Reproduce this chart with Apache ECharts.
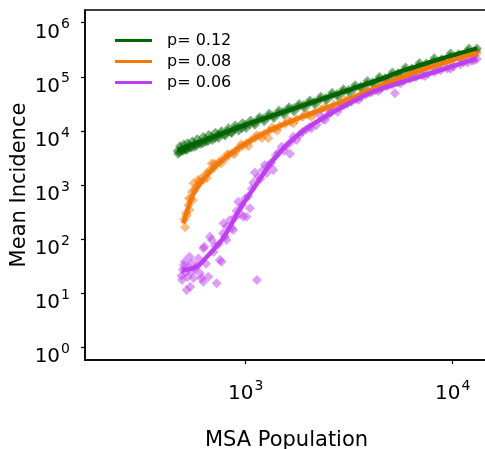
<!DOCTYPE html>
<html>
<head>
<meta charset="utf-8">
<script src="https://cdn.jsdelivr.net/npm/echarts@6/dist/echarts.min.js"></script>
<style>
html, body { margin: 0; padding: 0; background: #fff; }
#main { width: 485px; height: 449px; }
</style>
</head>
<body>
<div id="main"></div>
<script>
// tick positions (powers of ten)
var xTicks = [1000, 10000];
var yTicks = [1, 10, 100, 1000, 10000, 100000, 1000000];

var seriesNames = ['p= 0.12', 'p= 0.08', 'p= 0.06'];
var colors = ['#006400', '#f27a0a', '#bd40ee'];

// fitted curves, [MSA population, mean incidence]
var fit12 = [[470, 4400], [560, 5700], [710, 7900], [890, 11000], [1120, 15000], [1410, 20200],
    [1780, 27200], [2240, 36700], [2820, 49500], [3550, 67000], [4470, 90000], [5620, 126000],
    [7080, 166000], [8910, 219000], [11200, 282000], [13100, 331000]];
var fit08 = [[500, 195], [525, 355], [562, 710], [631, 1320], [708, 2140], [794, 3160], [891, 4370],
    [1000, 5890], [1260, 9550], [1585, 14100], [2000, 20000], [2510, 27500], [3160, 38900],
    [3980, 56200], [5010, 81300], [6310, 115000], [7940, 155000], [10000, 204000], [13060, 275000]];
var fit06 = [[491, 26.8], [580, 30.9], [648, 46.7], [711, 68.4], [780, 105], [849, 182], [938, 361],
    [1130, 1043], [1359, 2900], [1637, 6240], [1972, 11170], [2362, 17300], [2855, 26200],
    [4130, 53100], [6950, 100500], [13060, 220000]];

// simulated MSAs, [MSA population, mean incidence]
var pts12 = [[470, 4300], [480, 4050], [490, 4600], [500, 4350], [510, 4800], [520, 4500], [535, 5300],
    [550, 5000], [565, 5700], [580, 5500], [600, 6200], [620, 5900], [640, 6900], [660, 6600],
    [685, 7700], [710, 7400], [735, 8400], [760, 8900], [790, 8700], [820, 9800], [850, 9500],
    [885, 10900], [920, 11500], [960, 11300], [1000, 12800], [1050, 13400], [1100, 14200],
    [1160, 16100], [1220, 16900], [1290, 18500], [1360, 19100], [1440, 21300], [1520, 22400],
    [1610, 24900], [1700, 26100], [1800, 28100], [1910, 30200], [2030, 32800], [2150, 34500],
    [2290, 38200], [2440, 40600], [2600, 45100], [2770, 48200], [2950, 52700], [3150, 56900],
    [3360, 61400], [3600, 66100], [3850, 73800], [4120, 79300], [4400, 88500], [4720, 95100],
    [5080, 105000], [5460, 116000], [5880, 131000], [6350, 143000], [6870, 158000], [7450, 176000],
    [8100, 194000], [8850, 212000], [9700, 236000], [10700, 262000], [11900, 296000], [13100, 335000],
    [472, 3800], [482, 5200], [492, 4300], [503, 5600], [513, 4500], [524, 5900], [538, 4900],
    [553, 6400], [568, 5100], [584, 7000], [604, 5700], [624, 7700], [644, 6300], [664, 8400],
    [690, 6800], [714, 9200], [740, 7400], [765, 9900], [795, 8200], [826, 11200], [856, 9100],
    [890, 12600], [926, 10200], [966, 13800], [1006, 11300], [1056, 15600], [1107, 13000],
    [1167, 17900], [1228, 15000], [1298, 20800], [1368, 17400], [1449, 23900], [1530, 20000],
    [1620, 27300], [1711, 23000], [1812, 31400], [1922, 26400], [2043, 36300], [2164, 30700],
    [2305, 42600], [2456, 36800], [2617, 50800], [2788, 43200], [2969, 59000], [3171, 50900],
    [3382, 69800], [3624, 60500], [3875, 83500], [4147, 72000], [4429, 99000], [4751, 86500],
    [5113, 120000], [5496, 107000], [5918, 148000], [6392, 129000], [6915, 179000], [7499, 159000],
    [8153, 221000], [8908, 195000], [9764, 270000], [10770, 238000], [11980, 335000], [13000, 300000]];
var pts08 = [[505, 230], [510, 165], [515, 300], [520, 270], [528, 420], [535, 350], [545, 560],
    [555, 520], [560, 1075], [565, 780], [575, 900], [585, 1000], [598, 1150], [610, 1300],
    [625, 1240], [640, 1560], [655, 1650], [672, 1900], [686, 2500], [700, 2050], [720, 2400],
    [745, 2650], [770, 3000], [800, 3100], [830, 3650], [860, 3900], [895, 4300], [930, 4850],
    [970, 5300], [1010, 5900], [1060, 6700], [1110, 7400], [1170, 8200], [1230, 8900], [1286, 7300],
    [1300, 10000], [1380, 11000], [1460, 12300], [1550, 13400], [1650, 14800], [1760, 16500],
    [1880, 18000], [2010, 19600], [2150, 21800], [2310, 24600], [2480, 26800], [2670, 30600],
    [2880, 33500], [3100, 37400], [3350, 42100], [3620, 47800], [3920, 53900], [4250, 61800],
    [4620, 70300], [5030, 80500], [5480, 91800], [5980, 104000], [6550, 121000], [7200, 138000],
    [7950, 154000], [8800, 174000], [9800, 198000], [11000, 226000], [12300, 252000], [13100, 272000],
    [532, 560], [550, 740], [590, 1250], [650, 1350], [705, 2500], [760, 2500], [815, 3700],
    [880, 3700], [950, 5600], [1030, 5200], [1130, 8300], [1200, 7400], [1340, 11500], [1420, 10200],
    [1600, 15500], [1700, 13900], [1950, 20500], [2080, 18000], [2400, 27000], [2580, 25000],
    [3000, 37800], [3230, 35300], [3760, 53500], [4080, 53000], [4800, 79000], [5250, 80000],
    [6260, 118000], [6870, 120000], [8350, 168000], [9300, 176000], [11600, 241000], [12700, 250000]];
var pts06 = [[490, 21], [493, 17.5], [497, 27], [503, 33], [508, 38], [512, 24], [519, 11.5], [524, 20],
    [530, 30], [536, 47], [540, 13.2], [546, 25], [552, 36], [560, 19], [570, 28], [580, 31], [592, 44],
    [602, 23], [613, 18.9], [624, 16.3], [624, 67.6], [632, 72], [644, 35], [660, 20.2], [672, 111],
    [686, 96], [700, 58], [712, 75], [724, 15.2], [740, 80], [751, 41], [765, 38], [778, 128], [782, 196],
    [795, 110], [809, 96], [812, 170], [840, 225], [855, 160], [871, 147], [890, 250], [905, 330],
    [921, 491], [940, 300], [960, 420], [973, 259], [995, 560], [1011, 259], [1030, 620], [1049, 371],
    [1070, 850], [1090, 1100], [1109, 1700], [1134, 17.5], [1150, 1400], [1180, 1300], [1210, 1900],
    [1239, 2340], [1263, 1645], [1290, 2300], [1330, 2600], [1360, 1893], [1400, 3500], [1440, 4000],
    [1492, 5100], [1530, 4300], [1570, 5200], [1637, 3800], [1660, 6400], [1700, 7810], [1760, 6790],
    [1820, 8400], [1880, 9600], [1950, 10500], [2030, 11700], [2083, 11170], [2200, 12850],
    [2284, 19600], [2350, 16400], [2415, 15850], [2500, 19700], [2580, 21800], [2650, 24300],
    [2780, 22500], [2870, 27800], [2980, 29600], [3100, 31900], [3250, 34800], [3420, 38600],
    [3600, 42800], [3800, 46500], [4000, 50800], [4250, 55600], [4500, 60400], [4800, 66700],
    [5100, 71900], [5260, 49500], [5450, 78400], [5800, 84200], [6200, 90800], [6650, 98100],
    [7100, 106000], [7600, 114000], [8150, 123000], [8750, 132000], [9400, 143000], [10100, 155000],
    [10900, 168000], [11800, 184000], [12700, 203000], [13100, 214000],
    [3180, 36000], [3520, 37500], [3900, 52000], [4380, 54500], [4950, 72000], [5600, 76000],
    [6420, 99000], [7350, 103000], [8450, 135000], [9750, 141000], [11300, 185000], [12400, 197000]];

var fits = [fit12, fit08, fit06];
var points = [pts12, pts08, pts06];

var font = 'DejaVu Sans';

// 10^n labels with a superscript exponent
function powLabel(v) {
    return '{b|10}{s|' + Math.round(Math.log10(v)) + '}';
}
var powRich = {
    b: { fontFamily: font, fontSize: 20, lineHeight: 20, color: '#000', padding: [10, 0, 0, 0], verticalAlign: 'top' },
    s: { fontFamily: font, fontSize: 14, lineHeight: 14, color: '#000', padding: [5, 0, 0, 1], verticalAlign: 'top' }
};

var myChart = echarts.init(document.getElementById('main'));

var series = [];
for (var i = 0; i < 3; i++) {
    series.push({
        name: 'pts' + i,
        type: 'scatter',
        symbol: 'diamond',
        symbolSize: 10,
        itemStyle: { color: colors[i], opacity: 0.5 },
        data: points[i]
    });
    series.push({
        name: seriesNames[i],
        type: 'line',
        smooth: 0.35,
        showSymbol: false,
        lineStyle: { color: colors[i], width: 4.5 },
        itemStyle: { color: colors[i] },
        data: fits[i]
    });
}

option = {
    animation: false,
    grid: {
        left: 85,
        top: 10,
        right: -3,
        bottom: 89,
        outerBoundsMode: 'none',
        containLabel: false,
        show: true,
        borderColor: '#000',
        borderWidth: 1.5
    },
    legend: {
        data: seriesNames,
        orient: 'vertical',
        left: 110,
        top: 25,
        icon: 'rect',
        itemWidth: 37,
        itemHeight: 3,
        itemGap: 0,
        selectedMode: false,
        textStyle: { fontFamily: font, fontSize: 16, lineHeight: 21, color: '#000', padding: [0, 0, 0, 10] }
    },
    xAxis: {
        type: 'log',
        min: 167.5,
        max: 14810,
        name: 'MSA Population',
        nameLocation: 'middle',
        nameGap: 70,
        nameMoveOverlap: false,
        nameTextStyle: { fontFamily: font, fontSize: 21, color: '#000' },
        axisLine: { lineStyle: { color: '#000', width: 1.5 } },
        axisTick: { customValues: xTicks, length: 4, lineStyle: { color: '#000', width: 1.2 } },
        axisLabel: { customValues: xTicks, formatter: powLabel, rich: powRich, margin: 14 },
        splitLine: { show: false },
        minorTick: { show: false }
    },
    yAxis: {
        type: 'log',
        min: 0.582,
        max: 1717000,
        name: 'Mean Incidence',
        nameLocation: 'middle',
        nameGap: 55,
        nameMoveOverlap: false,
        nameTextStyle: { fontFamily: font, fontSize: 21, color: '#000' },
        axisLine: { lineStyle: { color: '#000', width: 1.5 } },
        axisTick: { customValues: yTicks, length: 4, lineStyle: { color: '#000', width: 1.2 } },
        axisLabel: { customValues: yTicks, formatter: powLabel, rich: powRich, margin: 15 },
        splitLine: { show: false },
        minorTick: { show: false }
    },
    series: series
};

myChart.setOption(option);
</script>
</body>
</html>
